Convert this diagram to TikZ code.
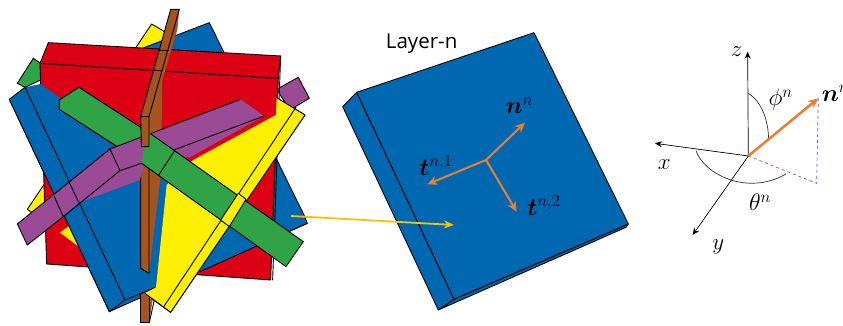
\RequirePackage{fix-cm}
\documentclass[tikz,border=0pt]{standalone}
\usepackage{amsmath}
\usepackage{fontspec}
\setsansfont{Open Sans}
\usetikzlibrary{arrows.meta, positioning}

\definecolor{plateblue}{HTML}{0068B0}
\definecolor{platered}{HTML}{DC0014}
\definecolor{plateyellow}{HTML}{FFEF00}
\definecolor{plategreen}{HTML}{2FA345}
\definecolor{platepurple}{HTML}{9B4A96}
\definecolor{platebrown}{HTML}{A3541F}
\definecolor{vecorange}{HTML}{ED7D31}
\definecolor{pointeryellow}{HTML}{FFC000}

\begin{document}
\begin{tikzpicture}[
    x=1pt, y=-1pt,
    face/.style={draw=black, line width=0.9pt, line join=round},
    edge/.style={draw=black, line width=0.9pt, line cap=round},
    vec/.style={-{Stealth[length=10pt,width=9pt]}, draw=vecorange, line width=2pt},
    axis/.style={-{Stealth[length=7pt,width=6pt]}, draw=black, line width=0.7pt},
    guide/.style={draw=platepurple, dashed, line width=0.7pt},
    sweep/.style={draw=black!80, line width=0.7pt},
    mathlabel/.style={font=\fontsize{24}{26}\selectfont, inner sep=0pt},
    axislabel/.style={font=\fontsize{23}{25}\selectfont, inner sep=0pt}
]
\clip (0,0) rectangle (843,326);

% stacked plates
\begin{scope}[x=0.3333pt, y=-0.3333pt]
    % rear parts
    \draw[face, fill=plateyellow] (455,72) -- (915,345) -- (512,937) -- (82,628) -- cycle;
    \draw[face, fill=plateblue] (628,68) -- (912,645) -- (922,670) -- (328,935) -- (28,298) -- cycle;
    \fill[platebrown] (422,850) -- (465,850) -- (448,968) -- (422,968) -- cycle;
    \draw[edge] (422,850) -- (422,968) -- (448,968) -- (448,880);
    \draw[edge] (448,968) -- (464,895);
    \draw[face, fill=platepurple] (830,268) -- (895,232) -- (928,295) -- (870,330) -- cycle;
    \draw[face, fill=plategreen] (100,175) -- (122,190) -- (122,240) -- (75,262) -- (52,250) -- cycle;
    % red block
    \draw[face, fill=platered] (120,190) -- (835,235) -- (812,840) -- (140,792) -- cycle;
    \draw[face, fill=platered] (145,128) -- (842,168) -- (835,235) -- (120,190) -- cycle;
    \draw[edge] (842,168) -- (818,840);
    % front parts of blue and yellow
    \fill[plateyellow] (180,698) -- (225,665) -- (260,758) -- cycle;
    \fill[plateblue] (28,298) -- (75,262) -- (122,252) -- (182,295) -- (178,328) -- (420,490) -- (505,540) -- (468,862) -- (375,900) -- (328,935) -- cycle;
    \draw[edge] (28,298) -- (328,935) -- (375,900) -- (468,862);
    \draw[edge] (28,298) -- (75,262) -- (375,900);
    \fill[plateblue] (640,720) -- (700,670) -- (870,690) -- (922,670) -- (600,815) -- cycle;
    \draw[edge] (922,670) -- (600,815);
    \fill[plateyellow] (500,555) -- (580,480) -- (828,345) -- (830,293) -- (915,345) -- (512,937) -- (435,880) -- (468,862) -- cycle;
    \draw[edge] (830,293) -- (915,345) -- (512,937) -- (435,880);
    \draw[edge] (888,322) -- (490,922);
    % lower part of the brown blade
    \fill[platebrown] (447,505) -- (482,525) -- (450,800) -- (447,820) -- cycle;
    \draw[face, fill=platebrown] (422,490) -- (447,505) -- (447,820) -- (422,805) -- cycle;
    % green and purple bars
    \draw[face, fill=plategreen] (178,300) -- (237,262) -- (450,400) -- (430,490) -- (178,328) -- cycle;
    \fill[platepurple] (52,672) -- (330,447) -- (722,298) -- (792,348) -- (570,472) -- (530,470) -- (432,495) -- (420,540) -- (237,608) -- (82,735) -- cycle;
    \draw[edge] (82,735) -- (52,672) -- (330,447) -- (722,298);
    \draw[edge] (530,447) -- (792,348);
    \draw[edge] (82,735) -- (190,650) -- (360,512) -- (430,488);
    \draw[edge] (330,447) -- (360,512);
    \draw[edge] (163,590) -- (190,650);
    \draw[edge] (208,548) -- (237,608);
    \fill[plategreen] (450,400) -- (910,725) -- (858,800) -- (425,490) -- (432,445) -- cycle;
    \draw[edge] (450,400) -- (910,725) -- (858,800) -- (425,490);
    \draw[edge] (527,447) -- (475,527);
    \draw[face, fill=plateyellow] (715,580) -- (738,598) -- (688,680) -- (662,660) -- cycle;
    % upper part of the brown blade
    \fill[platebrown] (512,28) -- (538,28) -- (532,90) -- (487,240) -- (485,385) -- (447,402) -- (447,350) -- (422,350) -- cycle;
    \draw[edge] (422,350) -- (512,28) -- (538,28) -- (447,350);
    \draw[edge] (475,150) -- (505,152);
    \draw[edge] (463,210) -- (485,213);
    \draw[face, fill=platebrown] (422,350) -- (447,350) -- (447,440) -- (424,440) -- cycle;
\end{scope}

% single layer
\begin{scope}[shift={(330,20)}, x=0.3333pt, y=-0.3333pt]
    \draw[face, fill=plateblue] (325,870) -- (372,838) -- (895,612) -- (888,622) -- cycle;
    \draw[face, fill=plateblue] (38,260) -- (80,217) -- (372,838) -- (325,870) -- cycle;
    \draw[face, fill=plateblue] (80,217) -- (612,38) -- (895,612) -- (372,838) -- cycle;
    \coordinate (planeMid) at (468,420);
    \coordinate (normalTip) at (585,308);
    \coordinate (tangentOneTip) at (292,493);
    \coordinate (tangentTwoTip) at (560,575);
    \coordinate (pointerEnd) at (372,615);
    \draw[vec] (planeMid) -- (normalTip);
    \draw[vec] (planeMid) -- (tangentOneTip);
    \draw[vec] (planeMid) -- (tangentTwoTip);
    \node[font=\sffamily\fontsize{20.5}{24}\selectfont, inner sep=0pt] (layerLabel) at (275,71) {Layer-n};
    \node[mathlabel] (normalLabel) at (568,258) {$\boldsymbol{n}^{n}$};
    \node[mathlabel] (tangentOneLabel) at (318,436) {$\boldsymbol{t}^{n,1}$};
    \node[mathlabel] (tangentTwoLabel) at (642,556) {$\boldsymbol{t}^{n,2}$};
\end{scope}

\coordinate (pointerStart) at (291,216);
\draw[-{Stealth[length=10pt,width=8pt]}, draw=pointeryellow, line width=1.8pt] (pointerStart) -- (pointerEnd);

% angles and axes
\begin{scope}[shift={(640,30)}, x=0.3333pt, y=-0.3333pt]
    \coordinate (orig) at (325,378);
    \coordinate (zTip) at (323,65);
    \coordinate (xTip) at (45,340);
    \coordinate (yTip) at (158,615);
    \coordinate (nTip) at (535,205);
    \coordinate (foot) at (530,460);
    \draw[sweep] (325,190) .. controls (365,215) and (385,270) .. (386,330);
    \draw[sweep] (168,362) .. controls (190,430) and (320,500) .. (438,432);
    \draw[guide] (orig) -- (foot) -- (nTip);
    \draw[axis] (orig) -- (zTip);
    \draw[axis] (orig) -- (xTip);
    \draw[axis] (orig) -- (yTip);
    \draw[vec, line width=2.5pt] (orig) -- (nTip);
    \node[axislabel] (zLabel) at (290,65) {$z$};
    \node[axislabel] (xLabel) at (73,403) {$x$};
    \node[axislabel] (yLabel) at (235,650) {$y$};
    \node[mathlabel] (phiLabel) at (422,210) {$\phi^{n}$};
    \node[mathlabel] (thetaLabel) at (360,518) {$\theta^{n}$};
    \node[mathlabel, anchor=west] (tipLabel) at (545,190) {$\boldsymbol{n}^{n}$};
\end{scope}

\end{tikzpicture}
\end{document}
